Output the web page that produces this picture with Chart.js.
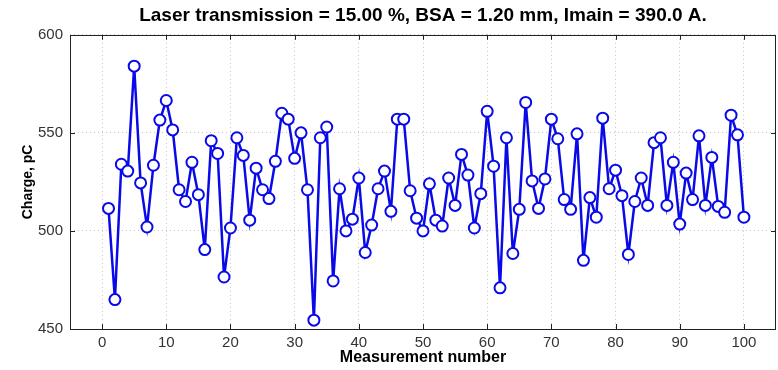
<!DOCTYPE html>
<html>
<head>
<meta charset="utf-8">
<script src="https://cdn.jsdelivr.net/npm/chart.js@4"></script>
<style>
  html, body { margin: 0; padding: 0; background: #fff; }
  #grafico { display: block; }
</style>
</head>
<body>
<canvas id="grafico" width="778" height="370"></canvas>
<script>
// --- Dados ---
const titulo = "Laser transmission = 15.00 %, BSA = 1.20 mm, Imain = 390.0 A.";
const xTicks = [0, 10, 20, 30, 40, 50, 60, 70, 80, 90, 100];
const yTicks = [450, 500, 550, 600];

// measurement numbers 1..100
const medidas = Array.from({ length: 100 }, (_, i) => i + 1);

const carga = [
  511.5, 465, 534, 530.5, 584, 524.5, 502, 533.5, 556.5, 566.5,
  551.5, 521, 515, 535, 518.5, 490.5, 546, 539.5, 476.5, 501.5,
  547.5, 538.5, 505.5, 532, 521, 516.5, 535.5, 560, 557, 537,
  550, 521, 454.5, 547.5, 553, 474.5, 521.5, 500, 506, 527,
  489, 503, 521.5, 530.5, 510, 557, 557, 520.5, 506.5, 500,
  524, 505.5, 502.5, 527, 513, 539, 528.5, 501.5, 519, 561,
  533, 471, 547.5, 488.5, 511, 565.5, 525.5, 511.5, 526.5, 557,
  547, 516, 511, 549.5, 485, 517, 507, 557.5, 521.5, 531,
  518, 488, 515, 527, 513, 545, 547.5, 513, 535, 503.5,
  529.5, 516, 548.5, 513, 537.5, 512.5, 509.5, 559, 549, 507
];

// --- Moldura estilo Matlab (caixa + ticks para dentro) ---
const moldura = {
  id: "moldura",
  afterDraw(chart) {
    const { ctx, chartArea: a, scales } = chart;
    const tam = 5;
    ctx.save();
    ctx.strokeStyle = "#222";
    ctx.lineWidth = 1;
    ctx.beginPath();
    scales.x.ticks.forEach(t => {
      const px = Math.round(scales.x.getPixelForValue(t.value)) + 0.5;
      ctx.moveTo(px, a.bottom); ctx.lineTo(px, a.bottom - tam);
      ctx.moveTo(px, a.top); ctx.lineTo(px, a.top + tam);
    });
    scales.y.ticks.forEach(t => {
      const py = Math.round(scales.y.getPixelForValue(t.value)) + 0.5;
      ctx.moveTo(a.left, py); ctx.lineTo(a.left + tam, py);
      ctx.moveTo(a.right, py); ctx.lineTo(a.right - tam, py);
    });
    ctx.stroke();
    ctx.strokeRect(Math.round(a.left) + 0.5, Math.round(a.top) + 0.5,
      Math.round(a.right - a.left) - 1, Math.round(a.bottom - a.top));
    ctx.restore();
  }
};

const fundo = {
  id: "fundo",
  beforeDraw(chart) {
    const ctx = chart.ctx;
    ctx.save();
    ctx.fillStyle = "#fff";
    ctx.fillRect(0, 0, chart.width, chart.height);
    ctx.restore();
  }
};

new Chart(document.getElementById("grafico"), {
  type: "line",
  data: {
    datasets: [{
      data: medidas.map((m, i) => ({ x: m, y: carga[i] })),
      borderColor: "#0a0ae8",
      borderWidth: 2.5,
      pointRadius: 5.5,
      pointBorderWidth: 2,
      pointBorderColor: "#0a0ae8",
      pointBackgroundColor: "#fff",
      tension: 0
    }]
  },
  options: {
    responsive: false,
    animation: false,
    layout: { autoPadding: false, padding: { left: 0, right: 2, top: 0, bottom: 0 } },
    plugins: {
      legend: { display: false },
      tooltip: { enabled: false },
      title: {
        display: true,
        fullSize: false,
        text: titulo,
        color: "#000",
        font: { family: "Liberation Sans", size: 19, weight: "bold" },
        padding: { top: 4, bottom: 8 }
      }
    },
    scales: {
      x: {
        type: "linear",
        min: -5,
        max: 105,
        afterBuildTicks: s => { s.ticks = xTicks.map(v => ({ value: v })); },
        afterFit: s => { s.height = 41; s.paddingLeft = 0; s.paddingRight = 0; },
        grid: { color: "#c4c4c4", drawTicks: false },
        border: { display: false, dash: [1, 3] },
        ticks: {
          color: "#333",
          padding: 5,
          maxRotation: 0,
          font: { family: "Liberation Sans", size: 15 }
        },
        title: {
          display: true,
          text: "Measurement number",
          color: "#000",
          font: { family: "Liberation Sans", size: 16, weight: "bold" },
          padding: { top: 3, bottom: 3 }
        }
      },
      y: {
        min: 450,
        max: 600,
        afterBuildTicks: s => { s.ticks = yTicks.map(v => ({ value: v })); },
        afterFit: s => { s.width = 70; },
        grid: { color: "#c4c4c4", drawTicks: false },
        border: { display: false, dash: [1, 3] },
        ticks: {
          color: "#333",
          padding: 7,
          font: { family: "Liberation Sans", size: 15 }
        },
        title: {
          display: true,
          text: "Charge, pC",
          color: "#000",
          font: { family: "Liberation Sans", size: 14, weight: "bold" },
          padding: { top: 20, bottom: 4 }
        }
      }
    }
  },
  plugins: [fundo, moldura]
});
</script>
</body>
</html>
